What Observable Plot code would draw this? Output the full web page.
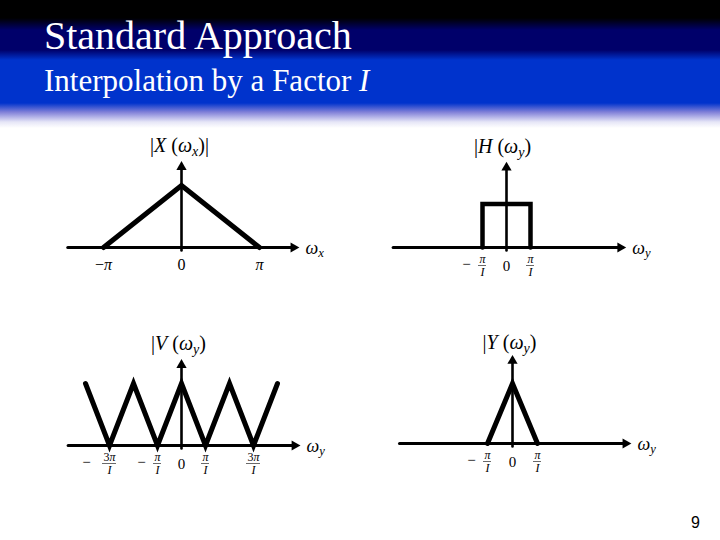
<!DOCTYPE html>
<html>
<head>
<meta charset="utf-8">
<script src="https://cdn.jsdelivr.net/npm/d3@7"></script>
<script src="https://cdn.jsdelivr.net/npm/@observablehq/plot@0.6"></script>
<style>
  html, body { margin: 0; padding: 0; background: #fff; }
  #page { position: relative; width: 720px; height: 540px; overflow: hidden; background: #fff; font-family: "Liberation Serif", "Times New Roman", serif; }
  #header { position: absolute; left: 0; top: 0; width: 720px; height: 128px;
    background: linear-gradient(to bottom, #000 0px, #000 18px, #00006a 30px, #00006a 50px, #0033cc 60px, #0033cc 103px, #7f7fd8 112px, #e6e6f7 122px, #fff 128px); }
  #title { position: absolute; left: 44px; top: 16px; color: #fff; font-size: 40px; line-height: 40px; white-space: nowrap; }
  #subtitle { position: absolute; left: 44px; top: 65px; color: #fff; font-size: 31px; line-height: 31px; white-space: nowrap; }
  #pagenum { position: absolute; left: 691px; top: 514px; font-family: "Liberation Sans", Arial, sans-serif; font-size: 16px; color: #000; }
  .panel { position: absolute; left: 0; top: 0; pointer-events: none; }
</style>
</head>
<body>
<div id="page">
  <div id="header"></div>
  <div id="title">Standard Approach</div>
  <div id="subtitle">Interpolation by a Factor <i>I</i></div>
  <div id="pagenum">9</div>
</div>
<script>
// ---------- DATA ----------
// Panel 1: |X(ωx)|, frequency in units of π
const xShapeW = [-1, 0, 1];
const xShapeA = [0, 1, 0];
const xTickPos = [-1, 0, 1];
const xTickLabel = ["−π", "0", "π"];

// Panel 2: |H(ωy)|, frequency in units of π/I
const hShapeW = [-1, -1, 1, 1];
const hShapeA = [0, 0.7, 0.7, 0];
const hTickPos = [-1, 0, 1];
const hTickSign = ["−", "", ""];
const hTickNum = ["π", "0", "π"];
const hTickDen = ["I", "", "I"];

// Panel 3: |V(ωy)|, frequency in units of π/I
const vShapeW = [-4, -3, -2, -1, 0, 1, 2, 3, 4];
const vShapeA = [1, 0, 1, 0, 1, 0, 1, 0, 1];
const vTickPos = [-3, -1, 0, 1, 3];
const vTickSign = ["−", "−", "", "", ""];
const vTickNum = ["3π", "π", "0", "π", "3π"];
const vTickDen = ["I", "I", "", "I", "I"];

// Panel 4: |Y(ωy)|, frequency in units of π/I
const yShapeW = [-1, 0, 1];
const yShapeA = [0, 1, 0];
const yTickPos = [-1, 0, 1];
const yTickSign = ["−", "", ""];
const yTickNum = ["π", "0", "π"];
const yTickDen = ["I", "", "I"];

// Labels
const panelTitles = ["|X (ω_x)|", "|H (ω_y)", "|V (ω_y)", "|Y (ω_y)"];
const axisNames = ["ω_x", "ω_y", "ω_y", "ω_y"];

// ---------- LAYOUT (page coordinates) ----------
const layouts = [
  { ox: 181, oy: 247, ux: 78, uy: 62, xmin: -1.42, xmax: 1.50, ytop: 1.38, tdx: -2, tdy: -16, lw: 5 },
  { ox: 506, oy: 247, ux: 24, uy: 62, xmin: -4.6, xmax: 4.95, ytop: 1.37, tdx: -4, tdy: -16, lw: 4.5 },
  { ox: 181, oy: 445, ux: 24, uy: 62, xmin: -4.6, xmax: 4.92, ytop: 1.38, tdx: -3, tdy: -16, lw: 5 },
  { ox: 512, oy: 443, ux: 25, uy: 60, xmin: -4.4, xmax: 4.72, ytop: 1.46, tdx: -3, tdy: -13, lw: 5 }
];

const zip = (a, b) => a.map((v, i) => ({ w: v, a: b[i] }));
const fracTicks = (pos, sign, num, den) => pos.map((p, i) => ({ p, sign: sign[i], num: num[i], den: den[i] }));

function baseMarks(L, shape, title, axisName) {
  return [
    Plot.line([{ w: L.xmin, a: 0 }, { w: L.xmax, a: 0 }], { x: "w", y: "a", strokeWidth: 3, stroke: "black", dx: -3 }),
    Plot.dot([{ w: L.xmax, a: 0 }], { x: "w", y: "a", symbol: "triangle", rotate: 90, r: 3.8, fill: "black", stroke: "none", dx: -5 }),
    Plot.line([{ w: 0, a: 0 }, { w: 0, a: L.ytop }], { x: "w", y: "a", strokeWidth: 2.6, stroke: "black", dy: 3 }),
    Plot.dot([{ w: 0, a: L.ytop }], { x: "w", y: "a", symbol: "triangle", r: 3.8, fill: "black", stroke: "none", dy: 5 }),
    Plot.line(shape, { x: "w", y: "a", stroke: "black", strokeWidth: L.lw, strokeLinejoin: "miter", strokeMiterlimit: 10 }),
    Plot.text([{ w: 0, a: L.ytop }], { x: "w", y: "a", text: () => title, dx: L.tdx, dy: L.tdy, fontSize: 20, fill: "black" }),
    Plot.text([{ w: L.xmax, a: 0 }], { x: "w", y: "a", text: () => axisName, dx: 7, dy: 1, textAnchor: "start", fontSize: 18, fill: "black" })
  ];
}

function fracMarks(ticks) {
  const fr = ticks.filter(d => d.den);
  const plain = ticks.filter(d => !d.den);
  const short = fr.filter(d => d.sign && d.num.length === 1);
  const long = fr.filter(d => d.sign && d.num.length > 1);
  return [
    Plot.text(fr, { x: "p", y: () => 0, text: d => d.num + "\n" + d.den, lineHeight: 1.05, dy: 18, fontSize: 12, fill: "black" }),
    Plot.ruleY(fr.filter(d => d.num.length === 1), { x1: "p", x2: "p", y: () => 0, dy: 18, insetLeft: -4, insetRight: -4, stroke: "#444", strokeWidth: 0.8 }),
    Plot.ruleY(fr.filter(d => d.num.length > 1), { x1: "p", x2: "p", y: () => 0, dy: 18, insetLeft: -7, insetRight: -7, stroke: "#444", strokeWidth: 0.8 }),
    Plot.text(short, { x: "p", y: () => 0, text: "sign", dx: -16, dy: 17, fontSize: 15, fill: "black" }),
    Plot.text(long, { x: "p", y: () => 0, text: "sign", dx: -23, dy: 17, fontSize: 15, fill: "black" }),
    Plot.text(plain, { x: "p", y: () => 0, text: "num", dy: 19, fontSize: 15, fill: "black" })
  ];
}

function makePanel(L, marks) {
  return Plot.plot({
    width: 720, height: 540,
    marginTop: 0, marginRight: 0, marginBottom: 0, marginLeft: 0,
    x: { type: "linear", domain: [-1, 1], range: [L.ox - L.ux, L.ox + L.ux], axis: null },
    y: { type: "linear", domain: [0, 1], range: [L.oy, L.oy - L.uy], axis: null },
    style: { background: "transparent", overflow: "visible", fontFamily: "Liberation Serif, Times New Roman, serif" },
    marks
  });
}

const NS = "http://www.w3.org/2000/svg";
function mathifyNode(t) {
  const s = t.textContent;
  if (!/[A-Za-zα-ωπ_]/.test(s)) return;
  t.textContent = "";
  let sub = false;
  for (const c of s) {
    if (c === "_") { sub = true; continue; }
    const ts = document.createElementNS(NS, "tspan");
    ts.textContent = c;
    if (/[A-Za-zα-ωπ]/.test(c)) ts.setAttribute("font-style", "italic");
    if (sub) { ts.setAttribute("baseline-shift", "-25%"); ts.setAttribute("font-size", "70%"); sub = false; }
    t.appendChild(ts);
  }
}
function mathify(svg) {
  svg.querySelectorAll("text").forEach(t => {
    const spans = t.querySelectorAll("tspan");
    if (spans.length) spans.forEach(mathifyNode);
    else mathifyNode(t);
  });
}

const page = document.getElementById("page");
const panels = [
  makePanel(layouts[0], [
    ...baseMarks(layouts[0], zip(xShapeW, xShapeA), panelTitles[0], axisNames[0]),
    Plot.text(xTickPos.map((p, i) => ({ p, t: xTickLabel[i] })), { x: "p", y: () => 0, text: "t", dy: 17, fontSize: 16, fill: "black" })
  ]),
  makePanel(layouts[1], [
    ...baseMarks(layouts[1], zip(hShapeW, hShapeA), panelTitles[1], axisNames[1]),
    ...fracMarks(fracTicks(hTickPos, hTickSign, hTickNum, hTickDen))
  ]),
  makePanel(layouts[2], [
    ...baseMarks(layouts[2], zip(vShapeW, vShapeA), panelTitles[2], axisNames[2]),
    ...fracMarks(fracTicks(vTickPos, vTickSign, vTickNum, vTickDen))
  ]),
  makePanel(layouts[3], [
    ...baseMarks(layouts[3], zip(yShapeW, yShapeA), panelTitles[3], axisNames[3]),
    ...fracMarks(fracTicks(yTickPos, yTickSign, yTickNum, yTickDen))
  ])
];
panels.forEach(svg => {
  svg.classList.add("panel");
  svg.style.position = "absolute";
  svg.style.left = "0px";
  svg.style.top = "0px";
  mathify(svg);
  page.appendChild(svg);
});
</script>
</body>
</html>
